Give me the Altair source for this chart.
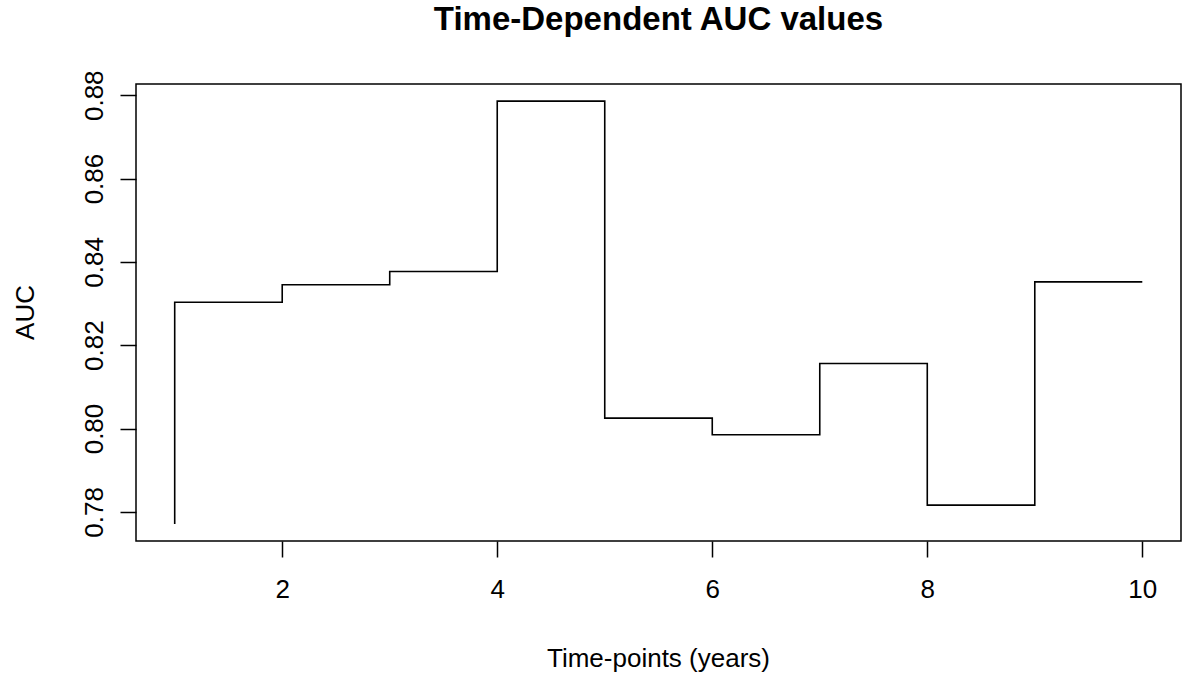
import altair as alt
import pandas as pd

time_points = [1, 2, 3, 4, 5, 6, 7, 8, 9, 10]
auc_values = [0.7771, 0.8303, 0.8345, 0.8377, 0.8786, 0.8025, 0.7985, 0.8156, 0.7816, 0.8352]
x_ticks = [2, 4, 6, 8, 10]
y_ticks = [0.78, 0.80, 0.82, 0.84, 0.86, 0.88]

df = pd.DataFrame({"t": time_points, "auc": auc_values})

FONT = "Liberation Sans"
FS = 26

chart = alt.Chart(df).mark_line(
    interpolate="step-before", color="black", strokeWidth=1.6
).encode(
    x=alt.X("t:Q",
            scale=alt.Scale(domain=[0.64, 10.36], nice=False, zero=False),
            axis=alt.Axis(values=x_ticks, title="Time-points (years)", format="d",
                          tickSize=16, tickColor="black", tickWidth=1.5,
                          labelPadding=19, labelFontSize=FS, labelFont=FONT,
                          labelColor="black", labelBaseline="top",
                          domain=False, grid=False,
                          titleFont=FONT, titleFontSize=FS, titleFontWeight="normal",
                          titleColor="black", titleBaseline="alphabetic",
                          titleY=125, titleX=522)),
    y=alt.Y("auc:Q",
            scale=alt.Scale(domain=[0.7730, 0.8827], nice=False, zero=False),
            axis=alt.Axis(values=y_ticks, title="AUC", format=".2f",
                          tickSize=16, tickColor="black", tickWidth=1.5,
                          labelPadding=18, labelFontSize=FS, labelFont=FONT,
                          labelColor="black", labelAngle=270, labelAlign="center",
                          labelBaseline="alphabetic",
                          domain=False, grid=False,
                          titleFont=FONT, titleFontSize=FS, titleFontWeight="normal",
                          titleColor="black", titleAngle=270, titleAlign="center",
                          titleBaseline="alphabetic", titleX=-103, titleY=228)),
).properties(
    width=1045,
    height=457,
    title=alt.TitleParams("Time-Dependent AUC values", font=FONT, fontSize=33,
                          fontWeight="bold", color="black", anchor="middle",
                          baseline="alphabetic", offset=7),
    autosize=alt.AutoSizeParams(type="none"),
    padding={"left": 136, "top": 84, "right": 1, "bottom": 133},
).configure(
    background="white",
    view=alt.ViewConfig(stroke="black", strokeWidth=1.5),
)

chart.save("out.html", embed_options={"renderer": "svg", "actions": False})
